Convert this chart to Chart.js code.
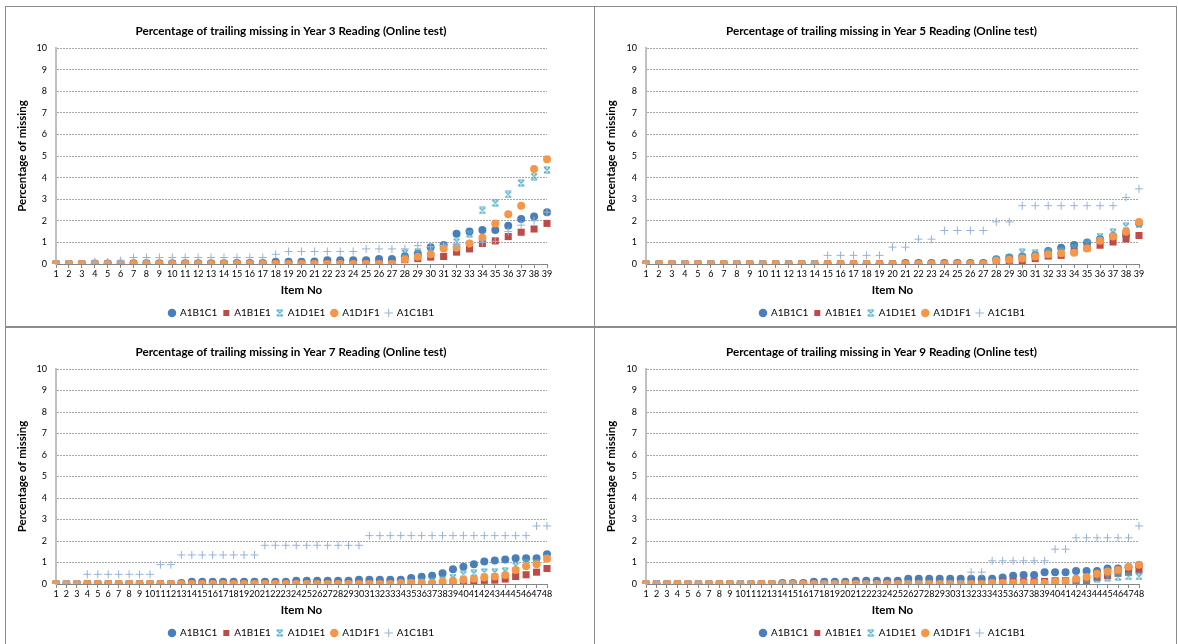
<!DOCTYPE html>
<html>
<head>
<meta charset="utf-8">
<script src="https://cdn.jsdelivr.net/npm/chart.js@4.4.0/dist/chart.umd.min.js"></script>
<style>
    body { margin: 0; background: #fff; width: 1178px; height: 644px; overflow: hidden; position: relative; }
    .panel { position: absolute; border: 1px solid #8c8c8c; box-sizing: border-box; overflow: hidden; background: #fff; }
    .panel canvas { position: absolute; left: 0; top: 0; }
</style>
</head>
<body>
<div class="panel" style="left:5px;top:6px;width:590px;height:321px;"><canvas id="c3" width="588" height="319"></canvas></div>
<div class="panel" style="left:594px;top:6px;width:583px;height:321px;"><canvas id="c5" width="581" height="319"></canvas></div>
<div class="panel" style="left:5px;top:327px;width:590px;height:330px;"><canvas id="c7" width="588" height="318"></canvas></div>
<div class="panel" style="left:594px;top:327px;width:583px;height:330px;"><canvas id="c9" width="581" height="318"></canvas></div>
<script>
// item numbers
var items39 = ['1','2','3','4','5','6','7','8','9','10','11','12','13','14','15','16','17','18','19','20',
    '21','22','23','24','25','26','27','28','29','30','31','32','33','34','35','36','37','38','39'];
var items48 = ['1','2','3','4','5','6','7','8','9','10','11','12','13','14','15','16','17','18','19','20',
    '21','22','23','24','25','26','27','28','29','30','31','32','33','34','35','36','37','38','39','40',
    '41','42','43','44','45','46','47','48'];

var seriesNames = ['A1B1C1', 'A1B1E1', 'A1D1E1', 'A1D1F1', 'A1C1B1'];

// Year 3 Reading
var y3_A1B1C1 = [0,0,0,0.02,0.02,0.02,0.03,0.03,0.03,0.03,0.03,0.03,0.03,0.03,0.05,0.05,0.05,0.1,0.1,0.1,
    0.12,0.17,0.17,0.17,0.17,0.23,0.23,0.36,0.47,0.78,0.88,1.4,1.5,1.58,1.58,1.77,2.08,2.2,2.4];
var y3_A1B1E1 = [0,0,0,0,0,0,0,0,0,0,0,0,0,0,0,0,0,0,0,0,
    0,0,0,0,0,0,0,0.2,0.25,0.32,0.35,0.55,0.7,0.95,1.07,1.27,1.47,1.62,1.88];
var y3_A1D1E1 = [0,0,0,0,0,0,0,0,0,0,0,0,0,0,0,0,0,0,0,0,
    0,0,0,0,0,0,0,0.5,0.55,0.65,0.8,1.03,1.4,2.48,2.82,3.22,3.75,4.05,4.35];
var y3_A1D1F1 = [0,0,0,0,0,0,0,0,0,0,0,0,0,0,0,0,0,0,0,0,
    0,0,0,0,0,0,0,0.22,0.33,0.45,0.72,0.75,0.95,1.22,1.88,2.3,2.7,4.4,4.85];
var y3_A1C1B1 = [0,0,0,0.1,0.1,0.15,0.3,0.3,0.3,0.3,0.3,0.3,0.3,0.3,0.3,0.3,0.3,0.45,0.58,0.58,
    0.58,0.58,0.58,0.58,0.7,0.7,0.7,0.7,0.85,0.8,0.85,0.9,0.95,1.0,1.05,1.5,1.8,2.0,2.4];

// Year 5 Reading
var y5_A1B1C1 = [0,0,0,0,0,0,0,0,0,0,0,0,0,0,0,0,0,0,0,0,
    0.05,0.05,0.05,0.05,0.05,0.05,0.05,0.22,0.3,0.35,0.4,0.6,0.75,0.88,1.0,1.15,1.3,1.35,1.9];
var y5_A1B1E1 = [0,0,0,0,0,0,0,0,0,0,0,0,0,0,0,0,0,0,0,0,
    0,0,0,0,0,0,0,0.12,0.1,0.15,0.25,0.37,0.4,0.59,0.75,0.87,1.02,1.16,1.32];
var y5_A1D1E1 = [0,0,0,0,0,0,0,0,0,0,0,0,0,0,0,0,0,0,0,0,
    0,0,0,0,0,0,0,0.2,0.3,0.54,0.5,0.55,0.6,0.75,0.95,1.27,1.47,1.75,1.83];
var y5_A1D1F1 = [0,0,0,0,0,0,0,0,0,0,0,0,0,0,0,0,0,0,0,0,
    0,0,0,0,0,0,0,0.15,0.2,0.25,0.35,0.45,0.5,0.52,0.72,1.08,1.27,1.49,1.95];
var y5_A1C1B1 = [0,0,0,0,0,0,0,0,0,0,0,0,0,0,0.4,0.4,0.4,0.4,0.4,0.78,
    0.78,1.15,1.15,1.55,1.55,1.55,1.55,1.95,1.95,2.7,2.7,2.7,2.7,2.7,2.7,2.7,2.7,3.08,3.48];

// Year 7 Reading
var y7_A1B1C1 = [0,0,0,0,0,0,0,0,0,0,0,0,0.05,0.1,0.1,0.1,0.1,0.1,0.1,0.1,
    0.1,0.1,0.1,0.15,0.15,0.15,0.15,0.15,0.15,0.2,0.2,0.2,0.2,0.2,0.28,0.34,0.38,0.5,0.69,0.8,
    0.92,1.05,1.09,1.14,1.2,1.2,1.2,1.38];
var y7_A1B1E1 = [0,0,0,0,0,0,0,0,0,0,0,0,0,0,0,0,0,0,0,0,
    0,0,0,0,0,0,0,0,0,0,0,0,0,0,0,0,0,0.02,0.02,0.05,
    0.1,0.17,0.18,0.23,0.35,0.43,0.55,0.72];
var y7_A1D1E1 = [0,0,0,0,0,0,0,0,0,0,0,0,0,0,0,0,0,0,0,0,
    0,0,0,0,0,0,0,0,0,0,0,0,0,0,0.05,0.1,0.15,0.2,0.3,0.45,
    0.5,0.55,0.55,0.6,0.85,1.0,1.0,1.2];
var y7_A1D1F1 = [0,0,0,0,0,0,0,0,0,0,0,0,0,0,0,0,0,0,0,0,
    0,0,0,0,0,0,0,0,0,0,0,0,0,0.05,0.05,0.05,0.05,0.1,0.15,0.2,
    0.25,0.3,0.35,0.42,0.65,0.83,0.92,1.18];
var y7_A1C1B1 = [0,0,0,0.45,0.45,0.45,0.45,0.45,0.45,0.45,0.9,0.9,1.35,1.35,1.35,1.35,1.35,1.35,1.35,1.35,
    1.8,1.8,1.8,1.8,1.8,1.8,1.8,1.8,1.8,1.8,2.25,2.25,2.25,2.25,2.25,2.25,2.25,2.25,2.25,2.25,
    2.25,2.25,2.25,2.25,2.25,2.25,2.7,2.7];

// Year 9 Reading
var y9_A1B1C1 = [0,0,0,0,0,0,0,0,0,0,0,0,0,0.05,0.05,0.05,0.1,0.1,0.1,0.1,
    0.15,0.15,0.15,0.15,0.15,0.25,0.25,0.25,0.25,0.25,0.25,0.25,0.25,0.25,0.3,0.38,0.42,0.42,0.55,0.55,
    0.55,0.6,0.6,0.6,0.72,0.72,0.78,0.88];
var y9_A1B1E1 = [0,0,0,0,0,0,0,0,0,0,0,0,0,0,0,0,0,0,0,0,
    0,0,0,0,0,0,0,0,0,0,0,0,0,0,0.1,0.1,0.1,0.1,0.12,0.15,
    0.15,0.1,0.15,0.3,0.4,0.5,0.55,0.65];
var y9_A1D1E1 = [0,0,0,0,0,0,0,0,0,0,0,0,0,0,0,0,0,0,0,0,
    0,0,0,0,0,0,0,0,0,0,0,0,0,0,0,0,0,0,0,0.1,
    0.1,0.15,0.2,0.25,0.3,0.32,0.35,0.35];
var y9_A1D1F1 = [0,0,0,0,0,0,0,0,0,0,0,0,0,0,0,0,0,0,0,0,
    0,0,0,0,0,0,0,0,0,0,0,0,0,0.05,0.05,0.05,0.05,0.05,0.05,0.1,
    0.12,0.25,0.32,0.48,0.58,0.65,0.8,0.9];
var y9_A1C1B1 = [0,0,0,0,0,0,0,0,0,0,0,0,0,0,0,0,0,0,0,0,
    0,0,0,0,0,0,0,0,0,0,0,0.55,0.55,1.08,1.08,1.08,1.08,1.08,1.08,1.62,
    1.62,2.15,2.15,2.15,2.15,2.15,2.15,2.7];

var colours = ['#4a7ebb', '#be4b48', '#4bacc6', '#f79646', '#95b3d7'];
var fontFamily = 'Lato, "Liberation Sans", sans-serif';

// Excel "star" marker: an X closed by bars on top and bottom
function starMarker(size) {
    var c = document.createElement('canvas');
    c.width = size; c.height = size;
    var g = c.getContext('2d');
    g.strokeStyle = colours[2];
    g.lineWidth = 1.2;
    g.beginPath();
    g.moveTo(1, 1); g.lineTo(size - 1, size - 1);
    g.moveTo(size - 1, 1); g.lineTo(1, size - 1);
    g.moveTo(1, 1); g.lineTo(size - 1, 1);
    g.moveTo(1, size - 1); g.lineTo(size - 1, size - 1);
    g.stroke();
    return c;
}
var star = starMarker(8);

// title and legend are centred on the whole panel in Excel, not on the plot area
var boxNudge = {
    id: 'boxNudge',
    afterLayout: function (chart, args, opts) {
        var t = chart.titleBlock;
        t.left = 0; t.right = opts.titleRight; t.width = opts.titleRight;
        var lg = chart.legend;
        lg.left = 0; lg.right = opts.legendRight; lg.width = opts.legendRight;
        lg.top += opts.legendDy; lg.bottom += opts.legendDy;
    }
};

function makeChart(id, title, labels, series, yWidth, rightPad, titleRight, legendRight) {
    var styles = [
        { pointStyle: 'circle', radius: 4, order: 5 },
        { pointStyle: 'rect', radius: 5, order: 4 },
        { pointStyle: star, radius: 4, order: 3 },
        { pointStyle: 'circle', radius: 4, order: 2 },
        { pointStyle: 'cross', radius: 4, order: 1 }
    ];
    var datasets = series.map(function (data, i) {
        return {
            label: seriesNames[i],
            data: data,
            showLine: false,
            pointStyle: styles[i].pointStyle,
            pointRadius: styles[i].radius,
            pointBorderWidth: i === 4 ? 1 : 0,
            pointBackgroundColor: colours[i],
            pointBorderColor: colours[i],
            backgroundColor: colours[i],
            borderColor: colours[i],
            order: styles[i].order
        };
    });

    return new Chart(document.getElementById(id).getContext('2d'), {
        type: 'line',
        data: { labels: labels, datasets: datasets },
        plugins: [boxNudge],
        options: {
            responsive: false,
            animation: false,
            events: [],
            layout: { padding: { left: 0, right: rightPad, top: 0, bottom: 3 } },
            plugins: {
                boxNudge: { titleRight: titleRight, legendRight: legendRight, legendDy: 5 },
                title: {
                    display: true,
                    text: title,
                    color: '#000',
                    font: { family: fontFamily, size: 11.7, weight: 'bold' },
                    padding: { top: 17, bottom: 10 }
                },
                legend: {
                    position: 'bottom',
                    labels: {
                        usePointStyle: true,
                        boxHeight: 6,
                        boxWidth: 6,
                        padding: 6,
                        color: '#000',
                        font: { family: fontFamily, size: 10 },
                        sort: function (a, b) { return a.datasetIndex - b.datasetIndex; }
                    }
                },
                tooltip: { enabled: false }
            },
            scales: {
                x: {
                    offset: false,
                    afterFit: function (scale) { scale.height = 33; },
                    grid: { drawOnChartArea: false, tickLength: 4, color: '#868686' },
                    border: { color: '#868686', width: 1 },
                    ticks: {
                        autoSkip: false, maxRotation: 0, minRotation: 0, padding: 1,
                        color: '#000', font: { family: fontFamily, size: 9 }
                    },
                    title: {
                        display: true, text: 'Item No', color: '#000', padding: { top: 0, bottom: 0 },
                        font: { family: fontFamily, size: 11.5, weight: 'bold' }
                    }
                },
                y: {
                    min: 0, max: 10,
                    afterFit: function (scale) { scale.width = yWidth; },
                    grid: { color: '#a6a6a6', drawTicks: false },
                    border: { color: '#c0c0c0', width: 2, dash: [2, 1] },
                    ticks: {
                        stepSize: 1, padding: 9, color: '#000',
                        font: { family: fontFamily, size: 9 }
                    },
                    title: {
                        display: true, text: 'Percentage of missing', color: '#000', padding: { top: 9, bottom: 0 },
                        font: { family: fontFamily, size: 11.5, weight: 'bold' }
                    }
                }
            }
        }
    });
}

makeChart('c3', 'Percentage of trailing missing in Year 3 Reading (Online test)', items39,
    [y3_A1B1C1, y3_A1B1E1, y3_A1D1E1, y3_A1D1F1, y3_A1C1B1], 50, 47, 570, 591);
makeChart('c5', 'Percentage of trailing missing in Year 5 Reading (Online test)', items39,
    [y5_A1B1C1, y5_A1B1E1, y5_A1D1E1, y5_A1D1F1, y5_A1C1B1], 51, 37, 573, 595);
makeChart('c7', 'Percentage of trailing missing in Year 7 Reading (Online test)', items48,
    [y7_A1B1C1, y7_A1B1E1, y7_A1D1E1, y7_A1D1F1, y7_A1C1B1], 50, 47, 570, 591);
makeChart('c9', 'Percentage of trailing missing in Year 9 Reading (Online test)', items48,
    [y9_A1B1C1, y9_A1B1E1, y9_A1D1E1, y9_A1D1F1, y9_A1C1B1], 51, 37, 573, 595);
</script>
</body>
</html>
